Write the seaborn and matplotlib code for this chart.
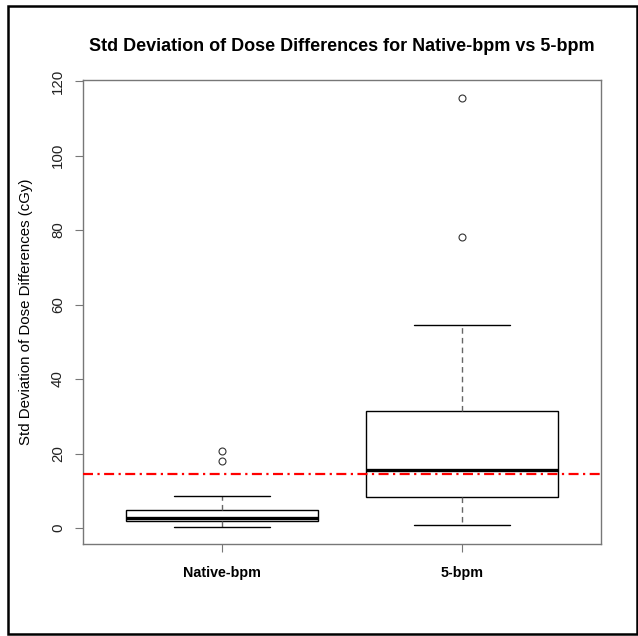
import numpy as np
import pandas as pd
import matplotlib
matplotlib.use("Agg")
import matplotlib.pyplot as plt
import seaborn as sns
from matplotlib.patches import Rectangle

# ---- data (five-number summaries + outliers) ----
categories = ["Native-bpm", "5-bpm"]
whisker_low = [0.27, 0.9]
q1 = [1.9, 8.4]
median = [2.7, 15.6]
q3 = [4.7, 31.3]
whisker_high = [8.7, 54.5]
outliers = [[18.1, 20.8], [78.1, 115.5]]
reference_line = 14.5

title = "Std Deviation of Dose Differences for Native-bpm vs 5-bpm"
ylabel = "Std Deviation of Dose Differences (cGy)"
yticks = [0, 20, 40, 60, 80, 100, 120]

# Build a table whose quartiles reproduce the summaries (n=13 per group)
rows = []
for i, c in enumerate(categories):
    vals = ([whisker_low[i]] + [q1[i]] * 3 + [median[i]] * 3 + [q3[i]] * 3
            + [whisker_high[i]] + list(outliers[i]))
    rows += [(c, v) for v in vals]
df = pd.DataFrame(rows, columns=["group", "value"])

sns.set_theme(style="white")
plt.rcParams["font.family"] = ["Liberation Sans", "DejaVu Sans"]

W, H = 638, 636
fig = plt.figure(figsize=(W / 100, H / 100), dpi=100)
ax = fig.add_axes([83 / W, 1 - 544 / H, (601 - 83) / W, (544 - 80) / H])

grey = "#777777"
sns.boxplot(
    data=df, x="group", y="value", order=categories, ax=ax,
    width=0.8, whis=1.5, linewidth=1.0,
    boxprops=dict(facecolor="white", edgecolor="black", linewidth=1.0),
    medianprops=dict(color="black", linewidth=2.4),
    whiskerprops=dict(color="#666666", linestyle=(0, (4, 3)), linewidth=1.0),
    capprops=dict(color="black", linewidth=1.0),
    flierprops=dict(marker="o", markerfacecolor="white", markeredgecolor="#333333",
                    markersize=5, markeredgewidth=0.8),
)

ax.set_xlim(-0.58, 1.58)
ax.set_ylim(-4.3, 120.3)
ax.axhline(reference_line, color="red", linewidth=1.6,
           linestyle=(0, (4.5, 2.0, 1.0, 2.0)), zorder=5)

ax.set_yticks(yticks)
ax.set_yticklabels([str(t) for t in yticks], rotation=90, va="center",
                   fontsize=10.8, color="#222222")
ax.set_xticks([0, 1])
ax.set_xticklabels(categories, fontsize=10.3, fontweight="bold", color="black")
ax.tick_params(axis="both", which="both", length=6, width=0.8, color=grey,
               direction="out", left=True, bottom=True, pad=10)
ax.tick_params(axis="y", pad=7)
ax.set_xlabel("")
ax.set_ylabel(ylabel, fontsize=10.8, color="black", labelpad=13)
ax.set_title(title, fontsize=13, fontweight="bold", pad=21, color="black")
for s in ax.spines.values():
    s.set_color(grey)
    s.set_linewidth(1.0)
    s.set_visible(True)

# outer frame
fig.patches.append(Rectangle((8 / W, 1 - 634 / H), (637 - 8) / W, (634 - 6) / H,
                             transform=fig.transFigure, fill=False,
                             edgecolor="black", linewidth=1.8))

fig.savefig("out.png", dpi=100, facecolor="white")
